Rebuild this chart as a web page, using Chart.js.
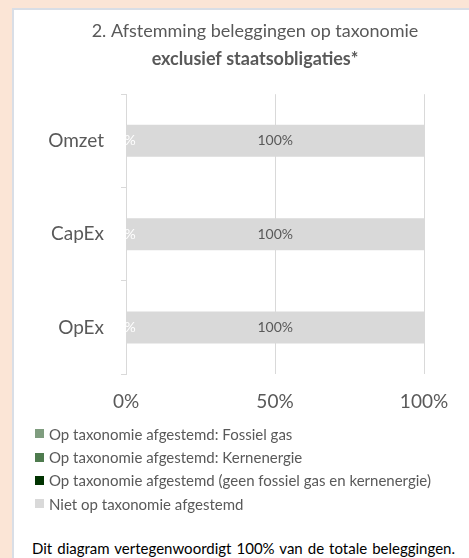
<!DOCTYPE html>
<html>
<head>
<meta charset="utf-8">
<script src="https://cdn.jsdelivr.net/npm/chart.js@4"></script>
<style>
  html, body { margin: 0; padding: 0; }
  body { width: 469px; height: 558px; background: #fbe5d6; position: relative; overflow: hidden; font-family: Lato, sans-serif; }
  #panel { position: absolute; left: 12px; top: 8px; width: 460px; height: 560px; background: #fff; border: 2px solid #d9dee6; box-sizing: border-box; }
  #wrap { position: absolute; left: 0; top: 0; width: 455px; height: 423px; }
  #legend { position: absolute; left: 21px; top: 412px; }
  .item { height: 23.4px; display: flex; align-items: center; font-size: 15px; color: #595959; }
  .box { width: 9px; height: 9px; margin-right: 5px; }
  #note { position: absolute; left: 18px; top: 529px; font-size: 15px; color: #000; word-spacing: 1.2px; white-space: nowrap; }
</style>
</head>
<body>
<div id="panel">
  <div id="wrap"><canvas id="taxChart"></canvas></div>
  <div id="legend"></div>
  <div id="note">Dit diagram vertegenwoordigt 100% van de totale beleggingen.</div>
</div>
<script>
// --- DATA ---
const categories = ["Omzet", "CapEx", "OpEx"];
const seriesNames = [
  "Op taxonomie afgestemd: Fossiel gas",
  "Op taxonomie afgestemd: Kernenergie",
  "Op taxonomie afgestemd (geen fossiel gas en kernenergie)",
  "Niet op taxonomie afgestemd",
];
const fossilGas = [0, 0, 0];
const nuclear = [0, 0, 0];
const alignedOther = [0, 0, 0];
const notAligned = [100, 100, 100];
const xTicks = [0, 50, 100];
const seriesColors = ["#7f9d7f", "#4e7b4e", "#003300", "#d9d9d9"];

// --- LEGEND (html) ---
function buildLegend() {
  const el = document.getElementById("legend");
  seriesNames.forEach((name, i) => {
    el.innerHTML += `<div class="item"><span class="box" style="background:${seriesColors[i]}"></span>${name}</div>`;
  });
}

// value labels on the bars
const barLabels = {
  id: "barLabels",
  afterDatasetsDraw(chart) {
    const c = chart.ctx;
    c.save();
    c.font = "14px Lato";
    c.textAlign = "center";
    c.textBaseline = "middle";
    chart.data.datasets.forEach((ds, di) => {
      if (di === 0 || di === 1) return;
      chart.getDatasetMeta(di).data.forEach((bar, i) => {
        const v = ds.data[i];
        const p = bar.getCenterPoint();
        c.fillStyle = v === 0 ? "#ffffff" : "#595959";
        c.fillText(v + "%", p.x, p.y);
      });
    });
    c.restore();
  },
};

// the title in the original sits a bit right of the canvas middle
const titleShift = {
  id: "titleShift",
  afterLayout(chart) {
    chart.boxes.forEach((b) => {
      if (b.options && b.options.text !== undefined && b.position === "top") b.left += 72;
    });
  },
};

function initChart() {
  const ctx = document.getElementById("taxChart");
  const allSeries = [fossilGas, nuclear, alignedOther, notAligned];

  new Chart(ctx, {
    type: "bar",
    data: {
      labels: categories,
      datasets: allSeries.map((d, i) => ({
        label: seriesNames[i],
        data: d,
        backgroundColor: seriesColors[i],
        barThickness: 32,
        inflateAmount: 0,
      })),
    },
    options: {
      indexAxis: "y",
      responsive: true,
      maintainAspectRatio: false,
      animation: false,
      layout: { padding: { left: 0, right: 45, bottom: 4 } },
      plugins: {
        legend: { display: false },
        tooltip: { enabled: false },
        title: {
          display: true,
          text: "2. Afstemming beleggingen op taxonomie",
          color: "#595959",
          font: { family: "Lato", size: 18, weight: "normal" },
          padding: { top: 10, bottom: 7 },
        },
        subtitle: {
          display: true,
          text: "exclusief staatsobligaties*",
          color: "#595959",
          font: { family: "Lato", size: 18, weight: "bold" },
          padding: { top: 0, bottom: 24 },
        },
      },
      scales: {
        x: {
          stacked: true,
          min: 0,
          max: 100,
          afterBuildTicks: (s) => { s.ticks = xTicks.map((v) => ({ value: v })); },
          border: { display: false },
          grid: { color: "#d9d9d9", drawTicks: false },
          ticks: {
            color: "#595959",
            font: { family: "Lato", size: 19 },
            padding: 16,
            callback: (v) => v + "%",
          },
        },
        y: {
          stacked: true,
          offset: true,
          afterFit: (s) => { s.width = 112; },
          border: { color: "#d9d9d9" },
          grid: { drawOnChartArea: false, color: "#d9d9d9", tickLength: 5, offset: true },
          ticks: {
            color: "#595959",
            font: { family: "Lato", size: 19 },
            padding: 17,
          },
        },
      },
    },
    plugins: [barLabels, titleShift],
  });
}

document.addEventListener("DOMContentLoaded", () => {
  buildLegend();
  initChart();
});
</script>
</body>
</html>
